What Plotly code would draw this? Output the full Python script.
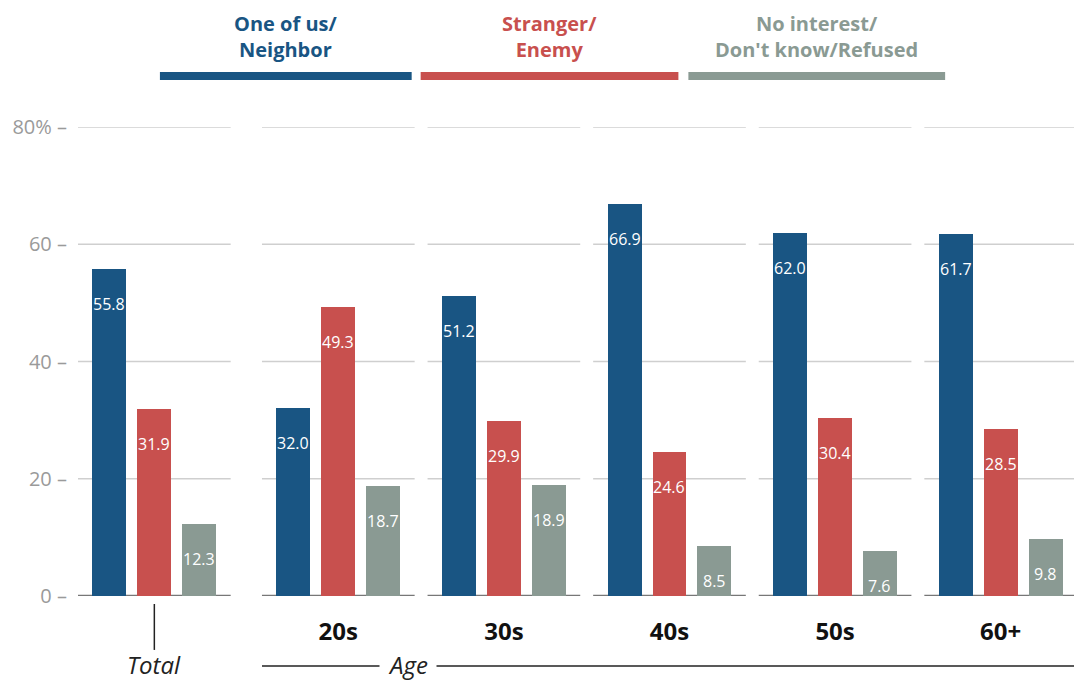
import plotly.graph_objects as go

# data
groups = ["Total", "20s", "30s", "40s", "50s", "60+"]
series = ["One of us/Neighbor", "Stranger/Enemy", "No interest/Don't know/Refused"]
one_of_us = [55.8, 32.0, 51.2, 66.9, 62.0, 61.7]
stranger = [31.9, 49.3, 29.9, 24.6, 30.4, 28.5]
no_interest = [12.3, 18.7, 18.9, 8.5, 7.6, 9.8]
y_ticks = [0, 20, 40, 60, 80]
y_tick_labels = ["0 –", "20 –", "40 –", "60 –", "80% –"]

colors = ["#195583", "#c8504e", "#8a9a93"]
FONT = "Open Sans, sans-serif"

# group centers: Total sits a bit apart from the age groups
centers = [0.0] + [1.111 + i for i in range(len(groups) - 1)]
offsets = [-0.271, 0.0, 0.271]
bar_w = 0.205
half_seg = 0.461

fig = go.Figure()
for vals, off, col, name in zip([one_of_us, stranger, no_interest], offsets, colors, series):
    xs = [c + off for c in centers]
    fig.add_trace(go.Bar(x=xs, y=vals, width=bar_w, marker=dict(color=col, line=dict(width=0)),
                         name=name, showlegend=False, hoverinfo="y"))
    for x, v in zip(xs, vals):
        fig.add_annotation(x=x, y=v, text=f"{v:.1f}", showarrow=False, xanchor="center", yanchor="top",
                           yshift=-22, font=dict(family=FONT, size=16, color="white"))

# broken gridlines, one segment per group
for c in centers:
    for t in y_ticks:
        fig.add_shape(type="line", x0=c - half_seg, x1=c + half_seg, y0=t, y1=t, layer="below",
                      line=dict(color="#777777" if t == 0 else "#cfcfcf", width=2.5 if t == 0 else 1.5))

# Total marker and Age bracket
fig.add_shape(type="line", xref="x", yref="paper", x0=centers[0], x1=centers[0], y0=-0.017, y1=-0.115,
              line=dict(color="#222222", width=1.5))
fig.add_annotation(x=centers[0], xref="x", y=-0.147, yref="paper", text="<i>Total</i>", showarrow=False,
                   xanchor="center", yanchor="middle", font=dict(family=FONT, size=24, color="#222222"))
fig.add_shape(type="line", xref="x", yref="paper", x0=centers[1] - half_seg, x1=centers[-1] + half_seg,
              y0=-0.149, y1=-0.149, line=dict(color="#222222", width=1.5))
fig.add_annotation(x=centers[1] + 0.42, xref="x", y=-0.147, yref="paper", text="<i>Age</i>", showarrow=False,
                   xanchor="center", yanchor="middle", bgcolor="white", borderpad=8,
                   font=dict(family=FONT, size=24, color="#222222"))

# legend header: text over coloured bars
legend_x = [(0.082, 0.334), (0.343, 0.601), (0.611, 0.868)]
legend_text = ["One of us/<br>Neighbor", "Stranger/<br>Enemy", "No interest/<br>Don't know/Refused"]
for (x0, x1), txt, col in zip(legend_x, legend_text, colors):
    fig.add_shape(type="line", xref="paper", yref="paper", x0=x0, x1=x1, y0=1.109, y1=1.109,
                  line=dict(color=col, width=8))
    fig.add_annotation(x=(x0 + x1) / 2, xref="paper", y=1.192, yref="paper", text=f"<b>{txt}</b>",
                       showarrow=False, xanchor="center", yanchor="middle", align="center",
                       font=dict(family=FONT, size=20, color=col))

# page has an 8px body margin, so the figure is 8px smaller on each side
fig.update_layout(
    width=1074, height=672, template="plotly_white",
    margin=dict(l=70, r=5, t=119, b=84),
    plot_bgcolor="white", paper_bgcolor="white",
    bargap=0, showlegend=False,
)
fig.update_xaxes(range=[centers[0] - half_seg, centers[-1] + half_seg], showgrid=False, zeroline=False,
                 showline=False, tickvals=centers[1:], ticktext=[f"<b>{g}</b>" for g in groups[1:]],
                 ticks="", ticklabelstandoff=19, tickfont=dict(family=FONT, size=24, color="#111111"))
fig.update_yaxes(range=[0, 80], showgrid=False, zeroline=False, showline=False, tickvals=y_ticks,
                 ticktext=y_tick_labels, ticks="", ticklabelstandoff=10,
                 tickfont=dict(family=FONT, size=20, color="#9a9a9a"))

fig.write_html("out.html")
